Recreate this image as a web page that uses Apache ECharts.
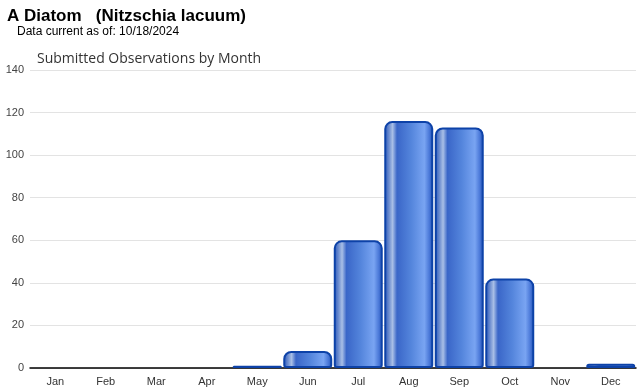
<!DOCTYPE html>
<html><head><meta charset="utf-8">
<script src="https://cdn.jsdelivr.net/npm/echarts@6/dist/echarts.min.js"></script>
<style>html,body{margin:0;padding:0;background:#fff}#c{width:640px;height:390px}</style>
</head><body><div id="c"></div>
<script>
const months = ['Jan','Feb','Mar','Apr','May','Jun','Jul','Aug','Sep','Oct','Nov','Dec'];
const observations = [0,0,0,0,1,8,60,116,113,42,0,2];
const yTicks = [0,20,40,60,80,100,120,140];

const chart = echarts.init(document.getElementById('c'));
const grad = new echarts.graphic.LinearGradient(0,0,1,0,[
  {offset:0,color:'#2452b8'},
  {offset:0.1,color:'#6f8fd0'},
  {offset:0.17,color:'#a9bfe6'},
  {offset:0.26,color:'#3a66c8'},
  {offset:0.55,color:'#5485dc'},
  {offset:0.82,color:'#79a4f2'},
  {offset:0.92,color:'#4a78d8'},
  {offset:1,color:'#1c4cb0'}
]);
chart.setOption({
  animation:false,
  title:[
    {text:'A Diatom   (Nitzschia lacuum)',left:2,top:3,textStyle:{fontFamily:'Liberation Sans, Arial',fontSize:17,fontWeight:'bold',color:'#000'}},
    {text:'Data current as of: 10/18/2024',left:12,top:21,textStyle:{fontFamily:'Liberation Sans, Arial',fontSize:12,fontWeight:'normal',color:'#000'}},
    {text:'Submitted Observations by Month',left:32,top:47,textStyle:{fontFamily:'Open Sans',fontSize:14,fontWeight:'normal',color:'#333'}}
  ],
  grid:{left:30,right:4,top:70,bottom:22,containLabel:false},
  xAxis:{type:'category',data:months,
    axisLine:{lineStyle:{color:'#000',width:1.5}},
    axisTick:{alignWithLabel:true,length:5,lineStyle:{color:'#ddd'}},
    axisLabel:{fontFamily:'Liberation Sans, Arial',fontSize:11,color:'#333',margin:8}},
  yAxis:{type:'value',min:yTicks[0],max:yTicks[yTicks.length-1],interval:20,
    axisLine:{show:false},axisTick:{show:false},
    splitLine:{lineStyle:{color:'#e3e3e3'}},
    axisLabel:{fontFamily:'Liberation Sans, Arial',fontSize:11,color:'#444',margin:6}},
  series:[{type:'bar',data:observations.map(v => v === 0 ? '-' : v),barCategoryGap:'3%',
    itemStyle:{color:grad,borderColor:'#0d42a8',borderWidth:2,borderRadius:[7,7,2,2]}}]
});
</script></body></html>
